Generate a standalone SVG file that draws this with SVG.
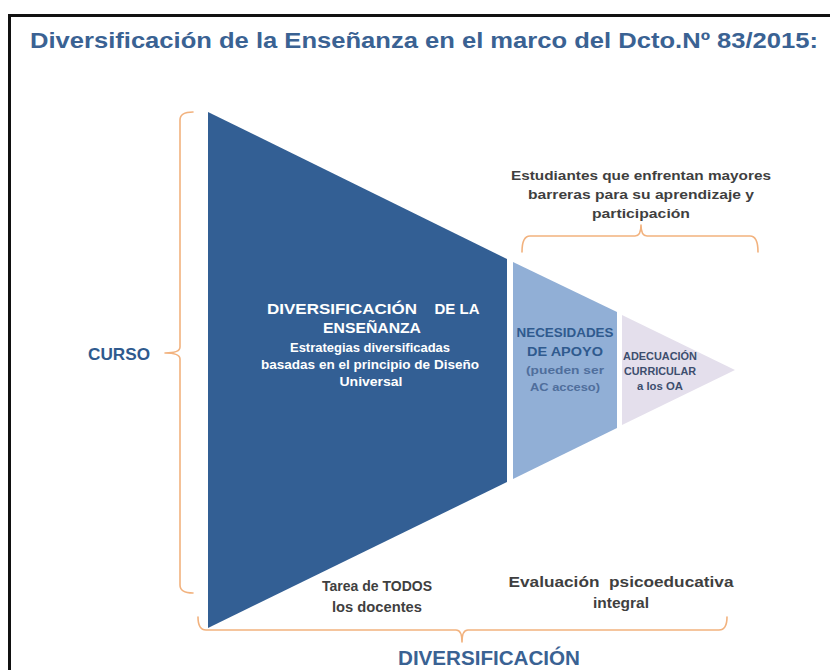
<svg xmlns="http://www.w3.org/2000/svg" width="830" height="670" viewBox="0 0 830 670">
<style>
text{font-family:"Liberation Sans",Arial,sans-serif;font-weight:bold;text-anchor:middle}
.brace{fill:none;stroke:#F2B27E;stroke-width:1.6;stroke-linecap:round;stroke-linejoin:round}
.title{fill:#3A6293}
.wt{fill:#FFFFFF}
.dk{fill:#3F3F3F}
.nb{fill:#2F5A8E}
</style>
<rect x="0" y="0" width="830" height="670" fill="#FFFFFF"/>
<rect x="9.5" y="15.5" width="840" height="700" fill="none" stroke="#111" stroke-width="3"/>
<text class="title" x="424" y="48" font-size="22" textLength="788" lengthAdjust="spacingAndGlyphs">Diversificación de la Enseñanza en el marco del Dcto.Nº 83/2015:</text>

<g id="diversificacion-ensenanza">
<polygon points="208,112 507,259 507,482 208,628" fill="#335F94"/>
<text class="wt" x="342" y="314" font-size="15" textLength="150" lengthAdjust="spacingAndGlyphs">DIVERSIFICACIÓN</text>
<text class="wt" x="457" y="314" font-size="15">DE LA</text>
<text class="wt" x="372" y="333" font-size="15" textLength="98" lengthAdjust="spacingAndGlyphs">ENSEÑANZA</text>
<text class="wt" x="370" y="352" font-size="12" textLength="160" lengthAdjust="spacingAndGlyphs">Estrategias diversificadas</text>
<text class="wt" x="370" y="369" font-size="12" textLength="218" lengthAdjust="spacingAndGlyphs">basadas en el principio de Diseño</text>
<text class="wt" x="371" y="386" font-size="12" textLength="63" lengthAdjust="spacingAndGlyphs">Universal</text>
</g>

<g id="necesidades-apoyo">
<polygon points="513,262 617,312 617,428 513,479" fill="#91AFD6"/>
<text class="nb" x="565" y="337" font-size="13" textLength="97" lengthAdjust="spacingAndGlyphs">NECESIDADES</text>
<text class="nb" x="565" y="356" font-size="13" textLength="76" lengthAdjust="spacingAndGlyphs">DE APOYO</text>
<text x="565" y="374" font-size="11.5" fill="#4F6E9C" font-weight="normal" textLength="78" lengthAdjust="spacingAndGlyphs">(pueden ser</text>
<text x="565" y="391" font-size="11.5" fill="#4F6E9C" font-weight="normal" textLength="70" lengthAdjust="spacingAndGlyphs">AC acceso)</text>
</g>

<g id="adecuacion-curricular">
<polygon points="622,315 735,370 622,425" fill="#E4DFEC"/>
<text x="660" y="360" font-size="10" fill="#3D4E6E" textLength="74" lengthAdjust="spacingAndGlyphs">ADECUACIÓN</text>
<text x="660" y="375" font-size="10" fill="#3D4E6E" textLength="72" lengthAdjust="spacingAndGlyphs">CURRICULAR</text>
<text x="660" y="390" font-size="10" fill="#3D4E6E" textLength="46" lengthAdjust="spacingAndGlyphs">a los OA</text>
</g>

<g id="connectors">
<path class="brace" d="M193,112 Q180,112 180,120 L180,347 Q180,353 165,353 Q180,353 180,359 L180,585 Q180,593 193,593"/>
<path class="brace" d="M198,617 Q198,630 206,630 L456,630 Q462,630 462,642 Q462,630 468,630 L719,630 Q727,630 727,617"/>
<path class="brace" d="M522,252 Q522,236 530,236 L635,236 Q641,236 641,225 Q641,236 647,236 L750,236 Q758,236 758,252"/>
</g>

<g id="curso">
<text class="nb" x="119" y="360" font-size="16.5" textLength="62" lengthAdjust="spacingAndGlyphs">CURSO</text>
</g>

<g id="estudiantes">
<text class="dk" x="641" y="180" font-size="13.5" textLength="260" lengthAdjust="spacingAndGlyphs">Estudiantes que enfrentan mayores</text>
<text class="dk" x="641" y="199" font-size="13.5" textLength="226" lengthAdjust="spacingAndGlyphs">barreras para su aprendizaje y</text>
<text class="dk" x="641" y="218" font-size="13.5" textLength="98" lengthAdjust="spacingAndGlyphs">participación</text>
</g>

<g id="tarea-docentes">
<text class="dk" x="377" y="591" font-size="15" textLength="110" lengthAdjust="spacingAndGlyphs">Tarea de TODOS</text>
<text class="dk" x="377" y="612" font-size="15" textLength="90" lengthAdjust="spacingAndGlyphs">los docentes</text>
</g>

<g id="evaluacion">
<text class="dk" x="621" y="587" font-size="15" textLength="225" lengthAdjust="spacingAndGlyphs" style="white-space:pre">Evaluación  psicoeducativa</text>
<text class="dk" x="621" y="608" font-size="15" textLength="56" lengthAdjust="spacingAndGlyphs">integral</text>
</g>

<g id="diversificacion">
<text class="title" x="489" y="665" font-size="20" textLength="182" lengthAdjust="spacingAndGlyphs">DIVERSIFICACIÓN</text>
</g>
</svg>
